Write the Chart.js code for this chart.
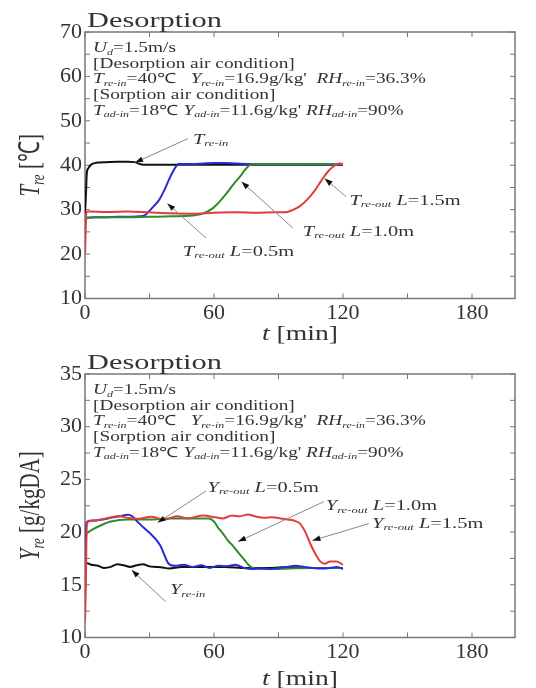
<!DOCTYPE html>
<html>
<head>
<meta charset="utf-8">
<script src="https://cdn.jsdelivr.net/npm/chart.js@4/dist/chart.umd.min.js"></script>
<style>
html, body { margin: 0; padding: 0; background: #fff; }
.box { position: absolute; left: 0; width: 536px; height: 344px; }
</style>
</head>
<body>
<div class="box" style="top:0"><canvas id="tempChart" width="536" height="344"></canvas></div>
<div class="box" style="top:344px"><canvas id="humChart" width="536" height="344"></canvas></div>
<script>
// ---- data ----
var xTicks = [0, 60, 120, 180];
var xMinor = [30, 90, 150];
var tempTicks = [10, 20, 30, 40, 50, 60, 70];
var tempMinor = [15, 25, 35, 45, 55, 65];
var humTicks = [10, 15, 20, 25, 30, 35];
var humMinor = [12.5, 17.5, 22.5, 27.5, 32.5];

// temperature, top chart
var inTimeT = [0, 0.5, 0.8, 1.5, 3, 6, 10, 15, 20, 23, 25.5, 28, 35, 45, 60, 75, 90, 105, 120];
var inTemp = [29, 34, 38, 39.3, 40.2, 40.6, 40.7, 40.8, 40.8, 40.7, 40.3, 40.1, 40.1, 40.1, 40.1, 40.1, 40.1, 40.1, 40.1];
var out05TimeT = [0, 0.5, 1, 5, 10, 15, 20, 25, 28, 29.5, 32, 34.5, 37, 39, 41.3, 43.5, 46, 50, 55, 60, 65, 70, 75, 80, 90, 100, 110, 120];
var out05Temp = [27, 27.8, 28.2, 28.3, 28.3, 28.4, 28.4, 28.5, 28.8, 29.5, 30.8, 32.2, 34.5, 36.7, 38.9, 40.3, 40.3, 40.3, 40.4, 40.5, 40.5, 40.4, 40.3, 40.2, 40.2, 40.2, 40.2, 40.2];
var out10TimeT = [0, 0.5, 1, 5, 10, 20, 30, 40, 50, 54, 56.5, 58.5, 61, 64, 67, 69.5, 72, 74.5, 76.5, 79, 85, 95, 105, 120];
var out10Temp = [27, 28.0, 28.2, 28.3, 28.3, 28.3, 28.4, 28.5, 28.7, 29.0, 29.5, 30.0, 31.0, 32.6, 34.4, 36.0, 37.4, 39.0, 40.0, 40.3, 40.2, 40.2, 40.3, 40.3];
var out15TimeT = [0, 0.3, 0.6, 2, 10, 20, 30, 40, 50, 60, 70, 80, 88, 93, 96, 100, 104, 107, 110, 113, 116, 118, 120];
var out15Temp = [20, 25, 29.5, 29.6, 29.5, 29.6, 29.4, 29.2, 29.1, 29.3, 29.4, 29.3, 29.4, 29.4, 29.8, 30.8, 32.6, 34.4, 36.6, 38.6, 39.9, 40.4, 40.3];

// humidity, bottom chart
var inTimeY = [0, 1, 3, 6, 9, 12, 15, 18, 21, 24, 27, 30, 33, 36, 39, 45, 55, 65, 75, 85, 95, 105, 120];
var inHum = [17.0, 17.05, 16.9, 16.8, 16.6, 16.7, 16.95, 16.85, 16.7, 16.85, 16.95, 16.75, 16.7, 16.65, 16.55, 16.7, 16.7, 16.7, 16.6, 16.6, 16.7, 16.6, 16.6];
var out05TimeY = [0, 0.5, 1, 4, 8, 12, 16, 20, 22, 24.8, 28.5, 30.7, 33, 35.2, 37, 38.5, 40, 42, 46, 50, 54, 58, 62, 66, 70, 74, 78, 82, 86, 90, 94, 98, 102, 106, 110, 114, 117, 120];
var out05Hum = [14, 20.5, 21.0, 21.1, 21.2, 21.35, 21.5, 21.65, 21.5, 20.9, 20.2, 19.8, 19.3, 18.65, 17.8, 17.1, 16.85, 16.8, 16.9, 16.7, 16.85, 16.6, 16.8, 16.75, 16.9, 16.6, 16.5, 16.6, 16.5, 16.6, 16.7, 16.8, 16.7, 16.6, 16.55, 16.6, 16.7, 16.5];
var out10TimeY = [0, 0.5, 1, 4, 8, 12, 20, 30, 40, 50, 55, 57.7, 60, 62, 64, 66.5, 69, 71.5, 74, 76, 78, 82, 88, 95, 105, 120];
var out10Hum = [15, 19.5, 19.9, 20.3, 20.7, 21.0, 21.2, 21.2, 21.3, 21.3, 21.3, 21.3, 21.0, 20.4, 19.9, 19.2, 18.65, 18.0, 17.4, 16.9, 16.6, 16.5, 16.5, 16.55, 16.6, 16.6];
var out15TimeY = [0, 0.4, 0.8, 1.5, 5, 10, 15.8, 20, 24.8, 30.7, 36.8, 42.8, 48, 54.8, 60.8, 64, 68.3, 72, 75.8, 79, 83.3, 87, 91, 94, 97, 100, 102.5, 105, 107.5, 109.5, 111.5, 114, 117, 120];
var out15Hum = [11.5, 15, 20.5, 21.0, 21.1, 21.3, 21.5, 21.35, 21.26, 21.45, 21.2, 21.5, 21.3, 21.57, 21.4, 21.3, 21.57, 21.5, 21.67, 21.5, 21.35, 21.4, 21.3, 21.2, 21.1, 20.8, 20.0, 18.8, 17.8, 17.2, 17.0, 17.2, 17.2, 16.9];

var SERIF = '"Liberation Serif", "Times New Roman", serif';
var SX = 1.38; // the source figure is stretched sideways
var TEXT = '#333';

function pts(ts, vs) {
    return ts.map(function (t, i) { return { x: t, y: vs[i] }; });
}

function line(data, color, order) {
    return {
        data: data,
        borderColor: color,
        borderWidth: 2,
        pointRadius: 0,
        cubicInterpolationMode: 'monotone',
        fill: false,
        order: order
    };
}

function segFont(st, size) {
    if (st === 's') return { font: 'italic ' + (size * 0.62).toFixed(1) + 'px ' + SERIF, dy: size * 0.28 };
    if (st === 'i') return { font: 'italic ' + size + 'px ' + SERIF, dy: 0 };
    return { font: size + 'px ' + SERIF, dy: 0 };
}

function richWidth(ctx, segs, size) {
    var w = 0;
    segs.forEach(function (s) {
        ctx.font = segFont(s[1], size).font;
        w += ctx.measureText(s[0]).width;
    });
    return w;
}

function drawRich(ctx, x, y, segs, size, rot) {
    ctx.save();
    ctx.translate(x, y);
    ctx.scale(SX, 1);
    if (rot) ctx.rotate(-Math.PI / 2);
    ctx.fillStyle = TEXT;
    ctx.textBaseline = 'middle';
    ctx.textAlign = 'left';
    var cx = rot ? -richWidth(ctx, segs, size) / 2 : 0;
    segs.forEach(function (s) {
        var f = segFont(s[1], size);
        ctx.font = f.font;
        ctx.fillText(s[0], cx, f.dy);
        cx += ctx.measureText(s[0]).width;
    });
    ctx.restore();
}

function arrow(ctx, x1, y1, x2, y2) {
    ctx.save();
    ctx.strokeStyle = '#888';
    ctx.lineWidth = 1;
    ctx.beginPath();
    ctx.moveTo(x1, y1);
    ctx.lineTo(x2, y2);
    ctx.stroke();
    var a = Math.atan2(y2 - y1, x2 - x1);
    ctx.fillStyle = '#111';
    ctx.beginPath();
    ctx.moveTo(x2, y2);
    ctx.lineTo(x2 - 8 * Math.cos(a) + 2.8 * Math.sin(a), y2 - 8 * Math.sin(a) - 2.8 * Math.cos(a));
    ctx.lineTo(x2 - 8 * Math.cos(a) - 2.8 * Math.sin(a), y2 - 8 * Math.sin(a) + 2.8 * Math.cos(a));
    ctx.closePath();
    ctx.fill();
    ctx.restore();
}

function figurePlugin(cfg) {
    return {
        id: 'figure',
        beforeDatasetsDraw: function (chart) {
            var ctx = chart.ctx, a = chart.chartArea;
            var xs = chart.scales.x, ys = chart.scales.y;
            ctx.save();
            ctx.strokeStyle = '#777';
            ctx.lineWidth = 1.5;
            ctx.strokeRect(a.left, a.top, a.right - a.left, a.bottom - a.top);
            ctx.lineWidth = 1;
            xTicks.concat(xMinor).forEach(function (v) {
                var x = xs.getPixelForValue(v);
                ctx.beginPath();
                ctx.moveTo(x, a.bottom); ctx.lineTo(x, a.bottom - 5);
                ctx.moveTo(x, a.top); ctx.lineTo(x, a.top + 5);
                ctx.stroke();
            });
            cfg.yTicks.concat(cfg.yMinor).forEach(function (v) {
                var y = ys.getPixelForValue(v);
                ctx.beginPath();
                ctx.moveTo(a.left, y); ctx.lineTo(a.left + 5, y);
                ctx.moveTo(a.right, y); ctx.lineTo(a.right - 5, y);
                ctx.stroke();
            });
            ctx.restore();
        },
        afterDraw: function (chart) {
            var ctx = chart.ctx, a = chart.chartArea;
            var xs = chart.scales.x, ys = chart.scales.y;
            drawRich(ctx, a.left + 2, a.top - 11, [['Desorption', 'n']], 22);
            drawRich(ctx, (a.left + a.right) / 2 - 38, cfg.xTitleY, [['t', 'i'], [' [min]', 'n']], 20);
            drawRich(ctx, 31, (a.top + a.bottom) / 2, cfg.yTitle, 21, true);
            cfg.block.forEach(function (segs, i) {
                drawRich(ctx, a.left + 8, a.top + cfg.blockTop + i * 15.6, segs, 14);
            });
            cfg.notes.forEach(function (n) {
                arrow(ctx, xs.getPixelForValue(n.from[0]), ys.getPixelForValue(n.from[1]),
                    xs.getPixelForValue(n.to[0]), ys.getPixelForValue(n.to[1]));
                drawRich(ctx, xs.getPixelForValue(n.at[0]), ys.getPixelForValue(n.at[1]), n.text, 14.8);
            });
        }
    };
}

function conditionBlock() {
    return [
        [['U', 'i'], ['d', 's'], ['=1.5m/s', 'n']],
        [['[Desorption air condition]', 'n']],
        [['T', 'i'], ['re-in', 's'], ['=40\u2103   ', 'n'], ['Y', 'i'], ['re-in', 's'], ['=16.9g/kg\'  ', 'n'], ['RH', 'i'], ['re-in', 's'], ['=36.3%', 'n']],
        [['[Sorption air condition]', 'n']],
        [['T', 'i'], ['ad-in', 's'], ['=18\u2103 ', 'n'], ['Y', 'i'], ['ad-in', 's'], ['=11.6g/kg\' ', 'n'], ['RH', 'i'], ['ad-in', 's'], ['=90%', 'n']]
    ];
}

function outLabel(v, len) {
    return [[v, 'i'], ['re-out', 's'], [' ', 'n'], ['L', 'i'], ['=' + len, 'n']];
}

function makeChart(id, datasets, yMin, yMax, yTicks, padTop, xHeight, cfg) {
    var tickFont = { family: SERIF, size: 22 };
    return new Chart(document.getElementById(id), {
        type: 'line',
        data: { datasets: datasets },
        options: {
            responsive: false,
            animation: false,
            events: [],
            layout: { padding: { top: padTop, right: 21, left: 0, bottom: 0 } },
            plugins: { legend: { display: false }, tooltip: { enabled: false } },
            scales: {
                x: {
                    type: 'linear', min: 0, max: 200,
                    grid: { display: false, drawTicks: false },
                    border: { display: false },
                    afterBuildTicks: function (s) { s.ticks = xTicks.map(function (v) { return { value: v }; }); },
                    afterFit: function (s) { s.height = xHeight; },
                    ticks: { padding: 2, font: tickFont, color: TEXT, maxRotation: 0, autoSkip: false }
                },
                y: {
                    type: 'linear', min: yMin, max: yMax,
                    grid: { display: false, drawTicks: false },
                    border: { display: false },
                    afterBuildTicks: function (s) { s.ticks = yTicks.map(function (v) { return { value: v }; }); },
                    afterFit: function (s) { s.width = 85; },
                    ticks: { padding: 3, font: tickFont, color: TEXT, autoSkip: false }
                }
            }
        },
        plugins: [figurePlugin(cfg)]
    });
}

makeChart('tempChart', [
    line(pts(out15TimeT, out15Temp), '#e23c3c', 0),
    line(pts(out10TimeT, out10Temp), '#2e8b2e', 1),
    line(pts(out05TimeT, out05Temp), '#2a2ad6', 2),
    line(pts(inTimeT, inTemp), '#111111', 3)
], 10, 70, tempTicks, 32, 45.5, {
    yTicks: tempTicks, yMinor: tempMinor, xTitleY: 335,
    yTitle: [['T', 'i'], ['re', 's'], [' [\u2103]', 'n']],
    blockTop: 16.5,
    block: conditionBlock(),
    notes: [
        { text: [['T', 'i'], ['re-in', 's']], at: [50.2, 45.7], from: [47.9, 46.0], to: [23.3, 40.6] },
        { text: outLabel('T', '0.5m'), at: [45.5, 20.5], from: [56.3, 23.6], to: [38.3, 31.4] },
        { text: outLabel('T', '1.0m'), at: [101.3, 25.0], from: [96.8, 25.8], to: [72.8, 36.3] },
        { text: outLabel('T', '1.5m'), at: [123.0, 32.0], from: [121.5, 32.9], to: [111.5, 37.0] }
    ]
});

makeChart('humChart', [
    line(pts(out15TimeY, out15Hum), '#e23c3c', 0),
    line(pts(out05TimeY, out05Hum), '#2a2ad6', 1),
    line(pts(out10TimeY, out10Hum), '#2e8b2e', 2),
    line(pts(inTimeY, inHum), '#111111', 3)
], 10, 35, humTicks, 30, 50.5, {
    yTicks: humTicks, yMinor: humMinor, xTitleY: 336,
    yTitle: [['Y', 'i'], ['re', 's'], [' [g/kgDA]', 'n']],
    blockTop: 16.5,
    block: conditionBlock(),
    notes: [
        { text: outLabel('Y', '0.5m'), at: [57.0, 24.2], from: [56.3, 23.9], to: [33.8, 20.9] },
        { text: outLabel('Y', '1.0m'), at: [112.0, 22.45], from: [111.2, 22.9], to: [71.2, 19.1] },
        { text: outLabel('Y', '1.5m'), at: [133.5, 20.8], from: [132.0, 20.8], to: [105.8, 19.2] },
        { text: [['Y', 'i'], ['re-in', 's']], at: [39.5, 14.5], from: [37.5, 13.4], to: [21.7, 16.4] }
    ]
});
</script>
</body>
</html>
